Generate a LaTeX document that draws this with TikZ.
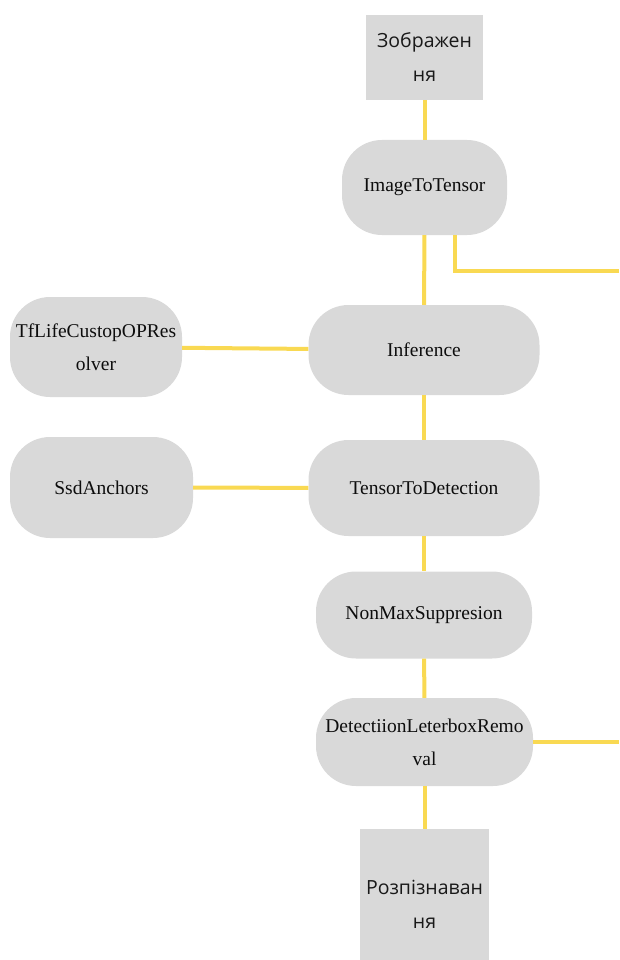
\documentclass[tikz,border=0pt]{standalone}
\usepackage{fontspec}
\setmainfont{Liberation Serif}
\newfontfamily\cyrsans{Open Sans}
\usepackage{tikz}
\usetikzlibrary{calc}
\usetikzlibrary{positioning}
\definecolor{boxgray}{RGB}{217,217,217}
\definecolor{linkyellow}{RGB}{249,217,82}
\tikzstyle{block} = [fill=boxgray, rectangle, rounded corners=40pt, inner sep=0pt,
    align=center, text=black!95, font=\fontsize{19.5}{33}\selectfont]
\tikzstyle{term} = [fill=boxgray, rectangle, inner sep=0pt,
    align=center, text=black!90, font=\cyrsans\fontsize{19.5}{34}\selectfont]
\tikzstyle{link} = [draw=linkyellow, line width=4pt]

\begin{document}
\begin{tikzpicture}[x=1pt, y=-1pt]
    \useasboundingbox (0,0) rectangle (619,960);
    % We start by placing the blocks
    \node [term, minimum width=117, minimum height=85] (img) at (424.5,57.5) {Зображен\\ня};
    \node [block, minimum width=165, minimum height=95] (itt) at (424.5,187.5) {ImageToTensor};
    \node [block, minimum width=231, minimum height=90] (inf) at (424,350) {Inference};
    \node [block, minimum width=172, minimum height=100] (tfl) at (96,347) {TfLifeCustopOPRes\\olver};
    \node [block, minimum width=231, minimum height=96] (ttd) at (424,488) {TensorToDetection};
    \node [block, minimum width=183, minimum height=101] (ssd) at (101.5,487.5) {SsdAnchors};
    \node [block, minimum width=216, minimum height=87] (nms) at (424,615) {NonMaxSuppresion};
    \node [block, minimum width=217, minimum height=88] (dlr) at (424.5,742) {DetectiionLeterboxRemo\\val};
    \node [term, minimum width=129, minimum height=150] (res) at (424.5,904) {Розпізнаван\\ня};
    \coordinate (tap1) at (619,271);
    \coordinate (tap2) at (619,742);

    % Once the nodes are placed, connecting them is easy.
    \draw [link] (img) -- (itt);
    \draw [link] (itt) -- (inf);
    \draw [link] ($(itt.south)+(30,0)$) |- (tap1);
    \draw [link] (tfl) -- (inf);
    \draw [link] (inf) -- (ttd);
    \draw [link] (ssd) -- (ttd);
    \draw [link] (ttd) -- (nms);
    \draw [link] (nms) -- (dlr);
    \draw [link] (dlr) -- (tap2);
    \draw [link] (dlr) -- (res);
\end{tikzpicture}
\end{document}
